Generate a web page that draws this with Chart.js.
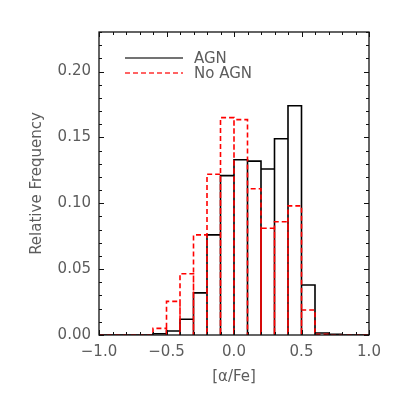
<!DOCTYPE html>
<html>
<head>
<meta charset="utf-8">
<script src="https://cdn.jsdelivr.net/npm/chart.js@4.4.1/dist/chart.umd.min.js"></script>
<style>
  html, body { margin: 0; padding: 0; background: #fff; }
  #wrap { width: 399px; height: 399px; }
</style>
</head>
<body>
<div id="wrap"><canvas id="myChart"></canvas></div>
<script>
// histogram bin edges ([alpha/Fe])
const binEdges = [-1.0, -0.9, -0.8, -0.7, -0.6, -0.5, -0.4, -0.3, -0.2, -0.1, 0.0,
                  0.1, 0.2, 0.3, 0.4, 0.5, 0.6, 0.7, 0.8, 0.9, 1.0];

// relative frequency per bin
const agnFreq = [0, 0, 0, 0, 0.001, 0.003, 0.012, 0.032, 0.076, 0.121,
                 0.133, 0.132, 0.126, 0.149, 0.174, 0.038, 0.0015, 0.0005, 0, 0];
const noAgnFreq = [0, 0, 0, 0, 0.005, 0.0255, 0.0465, 0.076, 0.122, 0.165,
                   0.1635, 0.111, 0.081, 0.086, 0.098, 0.019, 0.0005, 0, 0, 0];

const seriesNames = ['AGN', 'No AGN'];
const xTickLabels = [-1.0, -0.5, 0.0, 0.5, 1.0];
const yTickLabels = [0.00, 0.05, 0.10, 0.15, 0.20];

const textColor = '#5c5c5c';
const fontFamily = 'DejaVu Sans';

// turn a histogram into box outlines (each bin drawn as its own box)
function outline(freq) {
    const pts = [];
    freq.forEach((v, i) => {
        const x0 = binEdges[i], x1 = binEdges[i + 1];
        pts.push({x: x0, y: 0}, {x: x0, y: v}, {x: x1, y: v}, {x: x1, y: 0});
    });
    return pts;
}

// frame, inward ticks and legend inside the plot
const framePlugin = {
    id: 'frame',
    afterDraw(chart) {
        const ctx = chart.ctx;
        const a = chart.chartArea;
        const xs = chart.scales.x, ys = chart.scales.y;
        ctx.save();
        ctx.strokeStyle = '#111';
        ctx.lineWidth = 1.3;
        ctx.strokeRect(a.left, a.top, a.right - a.left, a.bottom - a.top);

        ctx.lineWidth = 1;
        ctx.beginPath();
        for (let k = -10; k <= 10; k++) {
            const v = k / 10;
            const px = Math.round(xs.getPixelForValue(v)) + 0.5;
            const len = (k % 5 === 0) ? 5 : 3;
            ctx.moveTo(px, a.bottom); ctx.lineTo(px, a.bottom - len);
            ctx.moveTo(px, a.top); ctx.lineTo(px, a.top + len);
        }
        for (let k = 0; k <= 23; k++) {
            const v = k / 100;
            const py = Math.round(ys.getPixelForValue(v)) + 0.5;
            const len = (k % 5 === 0) ? 5 : 3;
            ctx.moveTo(a.left, py); ctx.lineTo(a.left + len, py);
            ctx.moveTo(a.right, py); ctx.lineTo(a.right - len, py);
        }
        ctx.stroke();

        // legend
        const ds = chart.data.datasets;
        const rows = [58, 73];
        const legendColors = ['#444444', '#ff3030'];
        ctx.font = '15px ' + fontFamily;
        ctx.textBaseline = 'middle';
        ds.forEach((d, i) => {
            ctx.beginPath();
            ctx.strokeStyle = legendColors[i];
            ctx.lineWidth = 1.4;
            ctx.setLineDash(d.borderDash || []);
            ctx.moveTo(125, rows[i]);
            ctx.lineTo(183, rows[i]);
            ctx.stroke();
            ctx.setLineDash([]);
            ctx.fillStyle = textColor;
            ctx.fillText(d.label, 194, rows[i] + 1);
        });
        ctx.restore();
    }
};

const ctxEl = document.getElementById('myChart');
const myChart = new Chart(ctxEl, {
    type: 'line',
    data: {
        datasets: [{
            label: seriesNames[0],
            data: outline(agnFreq),
            borderColor: '#000',
            borderWidth: 1.6,
            pointRadius: 0,
            tension: 0,
            fill: false,
            order: 1
        }, {
            label: seriesNames[1],
            data: outline(noAgnFreq),
            borderColor: '#ff0000',
            borderWidth: 1.6,
            borderDash: [5, 3],
            pointRadius: 0,
            tension: 0,
            fill: false,
            order: 0
        }]
    },
    options: {
        responsive: true,
        maintainAspectRatio: false,
        animation: false,
        layout: { padding: { left: 0, right: 30, top: 32, bottom: 0 } },
        plugins: {
            legend: { display: false },
            tooltip: { enabled: false }
        },
        scales: {
            x: {
                type: 'linear',
                min: -1.0,
                max: 1.0,
                afterBuildTicks: (s) => { s.ticks = xTickLabels.map(v => ({value: v})); },
                afterFit: (s) => { s.height = 64; },
                grid: { drawOnChartArea: false, drawTicks: false },
                border: { display: false },
                ticks: {
                    padding: 8,
                    color: textColor,
                    font: { family: fontFamily, size: 15 },
                    callback: (v) => v.toFixed(1).replace('-', '\u2212')
                },
                title: {
                    display: true,
                    text: '[\u03b1/Fe]',
                    color: textColor,
                    font: { family: fontFamily, size: 15 },
                    padding: { top: 0, bottom: 13 }
                }
            },
            y: {
                min: 0,
                max: 0.23,
                afterBuildTicks: (s) => { s.ticks = yTickLabels.map(v => ({value: v})); },
                afterFit: (s) => { s.width = 99; },
                grid: { drawOnChartArea: false, drawTicks: false },
                border: { display: false },
                ticks: {
                    padding: 8,
                    color: textColor,
                    font: { family: fontFamily, size: 15 },
                    callback: (v) => v.toFixed(2)
                },
                title: {
                    display: true,
                    text: 'Relative Frequency',
                    color: textColor,
                    font: { family: fontFamily, size: 15 },
                    padding: { top: 28, bottom: 0 }
                }
            }
        }
    },
    plugins: [framePlugin]
});
</script>
</body>
</html>
